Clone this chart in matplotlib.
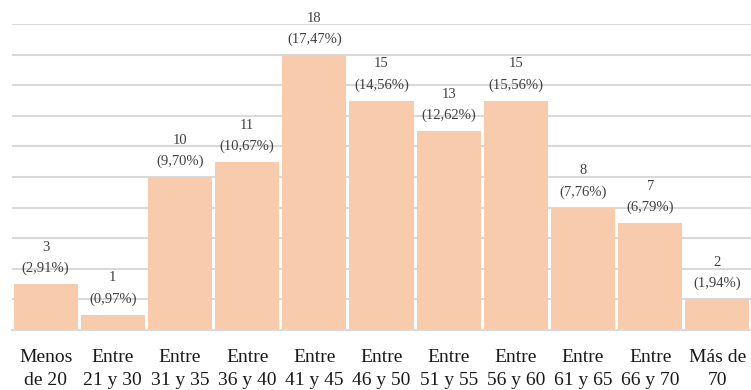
import matplotlib.pyplot as plt

categories = ['Menos\nde 20', 'Entre\n21 y 30', 'Entre\n31 y 35', 'Entre\n36 y 40',
              'Entre\n41 y 45', 'Entre\n46 y 50', 'Entre\n51 y 55', 'Entre\n56 y 60',
              'Entre\n61 y 65', 'Entre\n66 y 70', 'Más de\n70']
counts = [3, 1, 10, 11, 18, 15, 13, 15, 8, 7, 2]
percents = ['2,91%', '0,97%', '9,70%', '10,67%', '17,47%', '14,56%',
            '12,62%', '15,56%', '7,76%', '6,79%', '1,94%']

plt.rcParams['font.family'] = ['Liberation Serif', 'DejaVu Serif']

fig = plt.figure(figsize=(7.51, 3.90), dpi=100)
ax = fig.add_axes([0.016, 0.154, 0.984, 0.784])

x = range(len(categories))
ax.bar(x, counts, width=0.955, color='#F8CBAD', zorder=2)

# count on the first line, share of the total below it
for i, (c, p) in enumerate(zip(counts, percents)):
    ax.annotate('{0}\n({1})'.format(c, p), (i, c), xytext=(0, 6.5),
                textcoords='offset points', ha='center', va='bottom',
                fontsize=10.5, color='#404040', linespacing=1.75)

ax.set_xlim(-0.5, len(categories) - 0.5)
ax.set_ylim(0, 20)
ax.set_yticks(range(0, 21, 2))
ax.set_yticklabels([])
ax.tick_params(axis='y', length=0)
ax.tick_params(axis='x', length=0, pad=14)
ax.set_xticks(list(x))
ax.set_xticklabels(categories, fontsize=14, color='#1a1a1a', linespacing=1.45)
ax.grid(axis='y', color='#d9d9d9', linewidth=1.5, zorder=0)
for s in ['top', 'right', 'left']:
    ax.spines[s].set_visible(False)
ax.spines['bottom'].set_color('#d9d9d9')
ax.spines['bottom'].set_linewidth(1.5)

fig.savefig('out.png', dpi=100)
